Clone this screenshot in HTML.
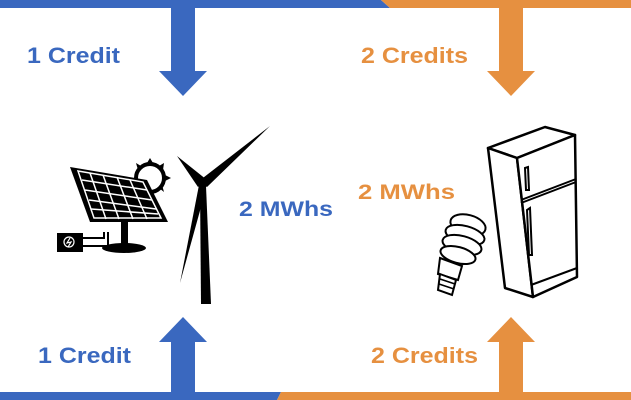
<!DOCTYPE html>
<html><head><style>html,body{margin:0;padding:0;background:#fff}svg{display:block}</style></head>
<body>
<svg width="631" height="400" viewBox="0 0 631 400" xmlns="http://www.w3.org/2000/svg" font-family="Liberation Sans, Arial, sans-serif" font-weight="bold">
<polygon points="0,0 381,0 390,8 0,8" fill="#3a68bf"/>
<polygon points="381,0 631,0 631,8 390,8" fill="#e69040"/>
<polygon points="171,8 195,8 195,71 207,71 183,96 159,71 171,71" fill="#3a68bf"/>
<polygon points="499,8 523,8 523,71 535,71 511,96 487,71 499,71" fill="#e69040"/>
<polygon points="0,392 281,392 277,400 0,400" fill="#3a68bf"/>
<polygon points="281,392 631,392 631,400 277,400" fill="#e69040"/>
<polygon points="171,393 195,393 195,342 207,342 183,317 159,342 171,342" fill="#3a68bf"/>
<polygon points="499,393 523,393 523,342 535,342 511,317 487,342 499,342" fill="#e69040"/>
<text x="27" y="63" font-size="22" fill="#3a68bf" textLength="93" lengthAdjust="spacingAndGlyphs">1 Credit</text>
<text x="361" y="63" font-size="22" fill="#e69040" textLength="107" lengthAdjust="spacingAndGlyphs">2 Credits</text>
<text x="38" y="363" font-size="22" fill="#3a68bf" textLength="93" lengthAdjust="spacingAndGlyphs">1 Credit</text>
<text x="371" y="363" font-size="22" fill="#e69040" textLength="107" lengthAdjust="spacingAndGlyphs">2 Credits</text>
<text x="239" y="216" font-size="21" fill="#3a68bf" textLength="94" lengthAdjust="spacingAndGlyphs">2 MWhs</text>
<text x="358" y="199" font-size="21" fill="#e69040" textLength="97" lengthAdjust="spacingAndGlyphs">2 MWhs</text>
<circle cx="150" cy="178" r="14" fill="none" stroke="#000" stroke-width="4"/>
<g fill="#000">
<polygon points="150,158 147,163 153,163"/><polygon points="164,163 159,166 163,170"/><polygon points="171,178 165,175 165,181"/><polygon points="164,192 159,188 162,185"/><polygon points="136,163 141,166 138,170"/>
</g>
<polygon points="70,167 147,180 168,222 90,222" fill="#000"/>
<polygon points="78,171 143,182 161,218 94,218" fill="#000" stroke="#fff" stroke-width="1.5"/>
<g stroke="#fff" stroke-width="1.5">
<line x1="90" y1="173" x2="106" y2="219"/><line x1="103" y1="175" x2="119" y2="219"/><line x1="117" y1="177" x2="133" y2="219"/><line x1="130" y1="180" x2="147" y2="219"/>
<line x1="82" y1="180" x2="147" y2="190"/><line x1="85" y1="190" x2="152" y2="200"/><line x1="89" y1="200" x2="156" y2="209"/><line x1="91" y1="209" x2="158" y2="214"/>
</g>
<rect x="121" y="222" width="7" height="24" fill="#000"/>
<ellipse cx="124" cy="248" rx="22" ry="5" fill="#000"/>
<rect x="57" y="233" width="26" height="19" fill="#000"/>
<circle cx="69" cy="242" r="5" fill="none" stroke="#fff" stroke-width="1.2"/>
<path d="M70,238 L67,243 L71,242 L68,247" stroke="#fff" stroke-width="1.2" fill="none"/>
<path d="M83,238 L104,238 L104,232 M83,246 L108,246 L108,232" stroke="#000" stroke-width="2" fill="none"/>
<!-- windmill -->
<polygon points="200,186 206,186 211,304 201,304" fill="#000"/>
<polygon points="199,181 270,126 207,187" fill="#000"/>
<polygon points="198,187 177,156 207,180" fill="#000"/>
<polygon points="199,185 206,189 180,283" fill="#000"/>
<circle cx="203" cy="183" r="5" fill="#000"/>
<g fill="#fff" stroke="#000" stroke-width="2.5" stroke-linejoin="round">
<polygon points="488,148 545,127 575,135 517,158"/>
<polygon points="488,148 517,158 533,297 505,288"/>
<polygon points="517,158 575,135 577,277 533,297"/>
</g>
<g fill="none" stroke="#000" stroke-width="2">
<line x1="521" y1="203" x2="576" y2="182"/>
<line x1="521" y1="200" x2="576" y2="179"/>
<path d="M525,168 L526,190 L529,190 L528,167 Z"/>
<path d="M527,210 L529,255 L532,255 L530,208 Z"/>
<line x1="531" y1="285" x2="577" y2="268"/>
</g>
<g fill="#fff" stroke="#000" stroke-width="2">
<ellipse cx="468" cy="225" rx="18" ry="10" transform="rotate(15 468 225)"/>
<ellipse cx="465" cy="235" rx="20" ry="9" transform="rotate(15 465 235)"/>
<ellipse cx="462" cy="245" rx="20" ry="9" transform="rotate(15 462 245)"/>
<ellipse cx="458" cy="255" rx="18" ry="8" transform="rotate(15 458 255)"/>
<path d="M440,258 L462,266 L458,280 L438,274 Z"/>
<path d="M440,274 L456,280 L452,295 L438,290 Z"/>
</g>
<g stroke="#000" stroke-width="1.5"><line x1="440" y1="279" x2="455" y2="284"/><line x1="439" y1="284" x2="454" y2="289"/></g>
</svg>
</body></html>
